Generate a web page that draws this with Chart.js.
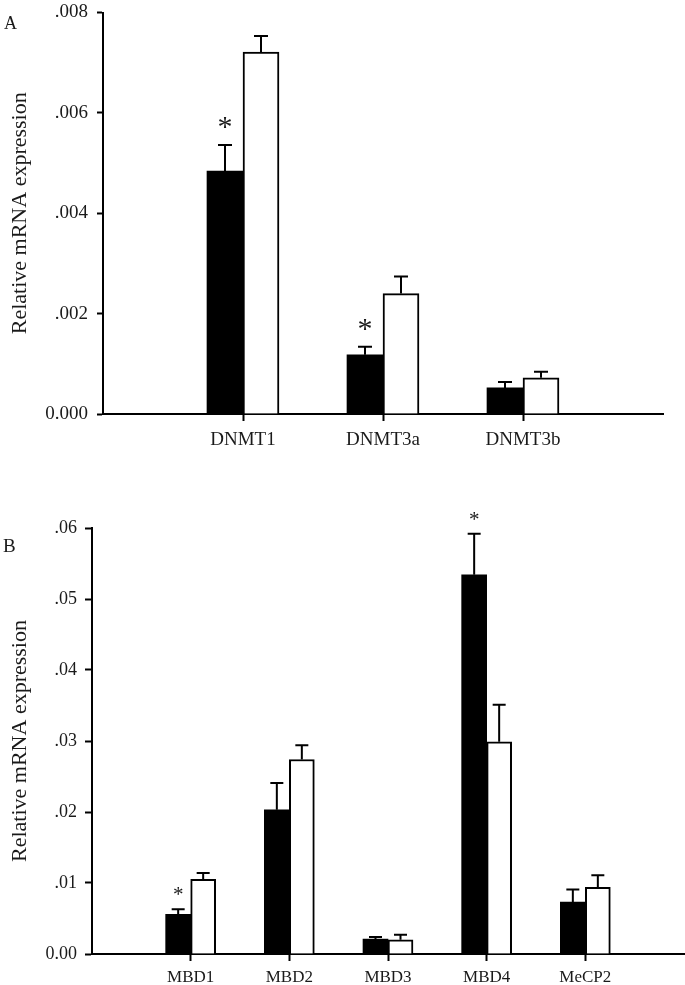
<!DOCTYPE html>
<html>
<head>
<meta charset="utf-8">
<script src="https://cdn.jsdelivr.net/npm/chart.js@4.4.0/dist/chart.umd.min.js"></script>
<style>
  html, body { margin: 0; padding: 0; background: #fff; }
  #wrap { position: relative; width: 685px; height: 985px; overflow: hidden; }
  canvas { position: absolute; left: 0; }
  #chartA { top: 0; }
  #chartB { top: 470px; }
</style>
</head>
<body>
<div id="wrap">
  <canvas id="chartA" width="685" height="470"></canvas>
  <canvas id="chartB" width="685" height="515"></canvas>
</div>
<script>
// panel A - DNMTs
const aCategories = ['DNMT1', 'DNMT3a', 'DNMT3b'];
const aBlack = [0.00484, 0.00118, 0.00052];
const aBlackErr = [0.00052, 0.00016, 0.00012];
const aWhite = [0.00721, 0.00240, 0.00072];
const aWhiteErr = [0.00032, 0.00034, 0.00012];
const aStars = [true, true, false];
const aTickLabels = ['0.000', '.002', '.004', '.006', '.008'];

// panel B - MBDs
const bCategories = ['MBD1', 'MBD2', 'MBD3', 'MBD4', 'MeCP2'];
const bBlack = [0.0056, 0.0203, 0.0021, 0.0534, 0.0073];
const bBlackErr = [0.0007, 0.0038, 0.0003, 0.0058, 0.0018];
const bWhite = [0.0105, 0.0274, 0.0020, 0.0299, 0.0094];
const bWhiteErr = [0.0009, 0.0020, 0.0007, 0.0052, 0.0017];
const bStars = [true, false, false, true, false];
const bTickLabels = ['0.00', '.01', '.02', '.03', '.04', '.05', '.06'];

const FONT = '"Liberation Serif", "Times New Roman", serif';
const TEXT = '#1a1a1a';

// empty slot on each side so the first bar sits one step in from the y axis
const pad = (arr) => [null, ...arr, null];

const errorBars = {
  id: 'errorBars',
  afterDatasetsDraw(chart, args, opts) {
    const ctx = chart.ctx;
    const yScale = chart.scales.y;
    ctx.save();
    ctx.strokeStyle = '#000';
    ctx.lineWidth = 2;
    chart.data.datasets.forEach((ds, i) => {
      const meta = chart.getDatasetMeta(i);
      meta.data.forEach((bar, j) => {
        const v = ds.data[j];
        const e = ds.errors[j];
        if (v == null || e == null) return;
        const top = yScale.getPixelForValue(v + e);
        ctx.beginPath();
        ctx.moveTo(bar.x, bar.y);
        ctx.lineTo(bar.x, top);
        ctx.moveTo(bar.x - opts.cap / 2, top);
        ctx.lineTo(bar.x + opts.cap / 2, top);
        ctx.stroke();
        if (ds.stars && ds.stars[j]) {
          ctx.fillStyle = TEXT;
          ctx.font = opts.starSize + 'px ' + FONT;
          ctx.textAlign = 'center';
          ctx.textBaseline = 'alphabetic';
          ctx.fillText('*', bar.x, top - opts.starGap + opts.starSize * 0.47);
        }
      });
    });
    ctx.restore();
  }
};

const panelLabel = {
  id: 'panelLabel',
  afterDraw(chart, args, opts) {
    const ctx = chart.ctx;
    ctx.save();
    ctx.fillStyle = TEXT;
    ctx.font = opts.size + 'px ' + FONT;
    ctx.textAlign = 'left';
    ctx.textBaseline = 'alphabetic';
    ctx.fillText(opts.text, opts.x, opts.y);
    ctx.restore();
  }
};

function makeChart(id, p) {
  const last = p.categories.length + 1;
  return new Chart(document.getElementById(id), {
    type: 'bar',
    data: {
      labels: ['', ...p.categories, ''],
      datasets: [
        {
          data: pad(p.black),
          errors: pad(p.blackErr),
          stars: pad(p.stars),
          backgroundColor: '#000',
          borderColor: '#000',
          borderWidth: 0
        },
        {
          data: pad(p.white),
          errors: pad(p.whiteErr),
          backgroundColor: '#fff',
          borderColor: '#000',
          borderWidth: 2
        }
      ]
    },
    options: {
      responsive: false,
      animation: false,
      layout: { padding: { top: p.areaTop, right: p.padRight, left: 0, bottom: 0 } },
      datasets: { bar: { barThickness: p.barWidth } },
      plugins: {
        legend: { display: false },
        tooltip: { enabled: false },
        errorBars: { cap: p.cap, starGap: p.starGap, starSize: p.starSize },
        panelLabel: p.label
      },
      scales: {
        x: {
          offset: false,
          border: { display: true, color: '#000', width: 2 },
          grid: {
            offset: false,
            drawOnChartArea: false,
            drawTicks: true,
            tickLength: 7,
            tickWidth: 2,
            tickColor: (c) => (c.index === 0 || c.index === last) ? 'rgba(0,0,0,0)' : '#000'
          },
          ticks: {
            autoSkip: false,
            maxRotation: 0,
            padding: p.xPad,
            color: TEXT,
            font: { family: FONT, size: p.xFont }
          },
          afterFit: (s) => {
            s.height = p.xHeight;
            s.paddingLeft = 0;
            s.paddingRight = 0;
          }
        },
        y: {
          min: 0,
          max: p.max,
          border: { display: true, color: '#000', width: 2 },
          grid: {
            drawOnChartArea: false,
            tickLength: p.yTick,
            tickWidth: 2,
            tickColor: '#000'
          },
          ticks: {
            stepSize: p.step,
            padding: p.yPad,
            color: TEXT,
            font: { family: FONT, size: p.yFont },
            callback: (v, i) => p.tickLabels[i]
          },
          title: {
            display: true,
            text: 'Relative mRNA expression',
            color: TEXT,
            font: { family: FONT, size: 22 },
            padding: { top: 7, bottom: 0 }
          },
          afterFit: (s) => {
            s.width = p.yWidth;
            s.paddingTop = 0;
            s.paddingBottom = 0;
          }
        }
      }
    },
    plugins: [errorBars, panelLabel]
  });
}

makeChart('chartA', {
  categories: aCategories, black: aBlack, blackErr: aBlackErr,
  white: aWhite, whiteErr: aWhiteErr, stars: aStars, tickLabels: aTickLabels,
  max: 0.008, step: 0.002,
  areaTop: 12.5, padRight: 22, barWidth: 36, cap: 14, starGap: 23, starSize: 30,
  xPad: 8, xFont: 19, xHeight: 56, yTick: 6, yPad: 9, yFont: 19, yWidth: 103,
  label: { text: 'A', x: 4, y: 29, size: 18 }
});

makeChart('chartB', {
  categories: bCategories, black: bBlack, blackErr: bBlackErr,
  white: bWhite, whiteErr: bWhiteErr, stars: bStars, tickLabels: bTickLabels,
  max: 0.06, step: 0.01,
  areaTop: 58, padRight: 1, barWidth: 25, cap: 13, starGap: 18, starSize: 21,
  xPad: 6, xFont: 17, xHeight: 31, yTick: 7, yPad: 8, yFont: 18, yWidth: 92,
  label: { text: 'B', x: 3, y: 82, size: 19 }
});
</script>
</body>
</html>
